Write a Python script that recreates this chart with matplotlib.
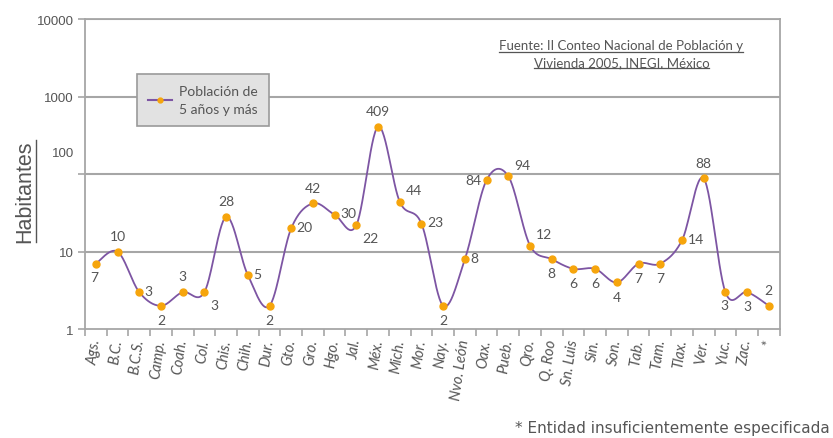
import numpy as np
import matplotlib
matplotlib.use("Agg")
import matplotlib.pyplot as plt
from matplotlib.lines import Line2D

# Entidades federativas y población de 5 años y más (hablantes)
estados = ["Ags.", "B.C.", "B.C.S.", "Camp.", "Coah.", "Col.", "Chis.", "Chih.",
           "Dur.", "Gto.", "Gro.", "Hgo.", "Jal.", "Méx.", "Mich.", "Mor.",
           "Nay.", "Nvo. León", "Oax.", "Pueb.", "Qro.", "Q. Roo", "Sn. Luis",
           "Sin.", "Son.", "Tab.", "Tam.", "Tlax.", "Ver.", "Yuc.", "Zac.", "*"]
habitantes = [7, 10, 3, 2, 3, 3, 28, 5, 2, 20, 42, 30, 22, 409, 44, 23,
              2, 8, 84, 94, 12, 8, 6, 6, 4, 7, 7, 14, 88, 3, 3, 2]
y_ticks = [1, 10, 100, 1000, 10000]

# where each value label sits relative to its point
label_pos = ["bl", "a", "r", "b", "a", "br", "a", "r",
             "b", "r", "a", "r", "br", "a", "ar", "r",
             "b", "r", "l", "ar", "ar", "b", "b", "b",
             "b", "b", "b", "r", "a", "bl", "b", "a"]
offsets = {"a": (0, 7, "center", "bottom"), "b": (0, -6, "center", "top"),
           "r": (4, 1, "left", "center"), "l": (-4, 0, "right", "center"),
           "br": (4, -5, "left", "top"), "bl": (-1, -5, "center", "top"),
           "ar": (4, 4, "left", "bottom")}

TEXT = "#555555"
AXC = "#a6a6a6"
PURPLE = "#7d55a3"
ORANGE = "#f6a50c"
FONT = ["Lato", "DejaVu Sans"]

fig = plt.figure(figsize=(8.33, 4.39), dpi=100)
ax = fig.add_axes([0.102, 0.248, 0.834, 0.706])

x = np.arange(len(estados))
ly = np.log10(habitantes)

# smoothed curve: Catmull-Rom spline through the points in log space
pts = np.column_stack([x, ly])
ext = np.vstack([pts[0], pts, pts[-1]])
curve = []
t = np.linspace(0, 1, 30)[:, None]
for i in range(1, len(ext) - 2):
    p0, p1, p2, p3 = ext[i - 1], ext[i], ext[i + 1], ext[i + 2]
    seg = 0.5 * ((2 * p1) + (-p0 + p2) * t + (2 * p0 - 5 * p1 + 4 * p2 - p3) * t ** 2
                 + (-p0 + 3 * p1 - 3 * p2 + p3) * t ** 3)
    curve.append(seg)
curve = np.vstack(curve)
ax.plot(curve[:, 0], 10 ** curve[:, 1], color=PURPLE, lw=1.3, zorder=3)
ax.plot(x, habitantes, ls="none", marker="o", ms=5, mfc=ORANGE, mec=ORANGE, zorder=4)

for xi, v, p in zip(x, habitantes, label_pos):
    dx, dy, ha, va = offsets[p]
    ax.annotate(str(v), (xi, v), xytext=(dx, dy), textcoords="offset points",
                ha=ha, va=va, fontsize=10, color=TEXT, family=FONT, zorder=5)

ax.set_yscale("log")
ax.set_ylim(1, 10000)
ax.set_xlim(-0.5, len(estados) - 0.5)

for g in y_ticks[1:]:
    ax.axhline(g, color=AXC, lw=1.5, zorder=1)

ax.set_yticks(y_ticks)
ax.set_yticklabels([str(v) if v != 100 else "" for v in y_ticks],
                   family=["Liberation Sans"], fontsize=9.5, color=TEXT)
ax.yaxis.set_minor_locator(matplotlib.ticker.NullLocator())
ax.tick_params(axis="y", length=5, color=AXC, width=1.2, pad=3)
ax.annotate("100", xy=(0, 100), xycoords=("axes fraction", "data"),
            xytext=(-8, 15), textcoords="offset points", ha="right", va="center",
            family=["Liberation Sans"], fontsize=9.5, color=TEXT)

ax.set_xticks(x)
ax.set_xticklabels(estados, rotation=82, ha="right", va="center",
                   rotation_mode="anchor", style="italic", family=FONT,
                   fontsize=10.5, color=TEXT)
ax.tick_params(axis="x", which="major", length=0, pad=7)
ax.set_xticks(np.arange(-0.5, len(estados)), minor=True)
ax.tick_params(axis="x", which="minor", length=5, color=AXC, width=1.2)

for s in ax.spines.values():
    s.set_color(AXC)
    s.set_linewidth(1.3)

leg_handle = Line2D([], [], color=PURPLE, lw=1.5, marker="o", ms=3.5,
                    mfc=ORANGE, mec=ORANGE)
leg = fig.legend([leg_handle], ["Población de\n5 años y más"],
                 loc="upper left", bbox_to_anchor=(0.1645, 0.829),
                 borderaxespad=0, frameon=True, fancybox=False,
                 handlelength=1.7, borderpad=0.8, handletextpad=0.5,
                 prop={"family": FONT, "size": 10})
leg.get_frame().set_facecolor("#e2e2e2")
leg.get_frame().set_edgecolor("#9a9a9a")
leg.get_frame().set_linewidth(1.2)
leg.get_frame().set_alpha(1)
for txt in leg.get_texts():
    txt.set_color(TEXT)
    txt.set_linespacing(1.6)

ylab = fig.text(0.03, 0.563, "Habitantes", rotation=90, ha="center", va="center",
                family=["Liberation Sans"], fontsize=15.5, color=TEXT)
src1 = fig.text(0.746, 0.895, "Fuente: II Conteo Nacional de Población y",
                ha="center", va="center", family=FONT, fontsize=9.5, color=TEXT)
src2 = fig.text(0.746, 0.857, "Vivienda 2005, INEGI. México",
                ha="center", va="center", family=FONT, fontsize=9.5, color=TEXT)
fig.text(0.996, 0.025, "* Entidad insuficientemente especificada", ha="right",
         va="center", family=["DejaVu Sans"], fontsize=11, color=TEXT)

# underline the axis title and the source note
fig.canvas.draw()
r = fig.canvas.get_renderer()
inv = fig.transFigure.inverted()
bb = ylab.get_window_extent(r)
(x0, y0), (x1, y1) = inv.transform([(bb.x1 + 1, bb.y0), (bb.x1 + 1, bb.y1)])
fig.add_artist(Line2D([x0, x1], [y0, y1], color=TEXT, lw=1.0, transform=fig.transFigure))
for t_ in (src1, src2):
    bb = t_.get_window_extent(r)
    (x0, y0), (x1, y1) = inv.transform([(bb.x0, bb.y0 - 0.5), (bb.x1, bb.y0 - 0.5)])
    fig.add_artist(Line2D([x0, x1], [y0, y1], color=TEXT, lw=0.9, transform=fig.transFigure))

fig.savefig("out.png", dpi=100, facecolor="white")
